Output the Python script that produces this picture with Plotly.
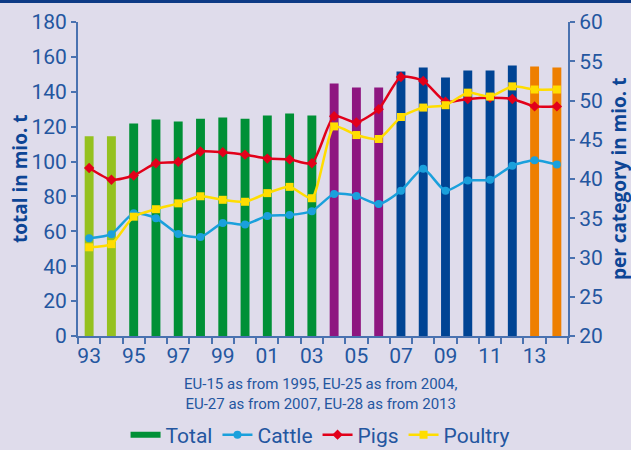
import plotly.graph_objects as go

years = list(range(1993, 2015))
total = [114.5, 114.5, 121.8, 124.1, 122.9, 124.6, 125.2, 124.6, 126.4, 127.5, 126.4,
         144.7, 142.4, 142.4, 151.6, 153.9, 148.2, 152.2, 152.2, 155.1, 154.5, 153.9]
cattle = [32.45, 32.97, 35.65, 35.0, 33.0, 32.6, 34.4, 34.2, 35.3, 35.4, 35.9,
          38.1, 37.85, 36.8, 38.5, 41.3, 38.5, 39.8, 39.9, 41.7, 42.4, 41.85]
pigs = [41.4, 39.9, 40.45, 42.0, 42.2, 43.5, 43.4, 43.1, 42.6, 42.5, 42.0,
        48.0, 47.2, 48.9, 53.0, 52.5, 49.85, 50.2, 50.35, 50.2, 49.25, 49.25]
poultry = [31.3, 31.7, 35.2, 36.15, 36.9, 37.8, 37.35, 37.1, 38.2, 39.0, 37.55,
           46.7, 45.6, 45.1, 47.9, 49.1, 49.4, 51.0, 50.5, 51.8, 51.4, 51.4]
tick_years = [1993, 1995, 1997, 1999, 2001, 2003, 2005, 2007, 2009, 2011, 2013]
tick_labels = ["93", "95", "97", "99", "01", "03", "05", "07", "09", "11", "13"]

def bar_color(y):
    if y < 1995:
        return "#95c11f"
    if y < 2004:
        return "#009036"
    if y < 2007:
        return "#8e1680"
    if y < 2013:
        return "#004494"
    return "#ee7f00"

BG = "#dfdceb"
TXT = "#2456a0"
TITLE = "#0d4595"
AX = "#4a72b0"

fig = go.Figure()
fig.add_trace(go.Bar(x=years, y=total, width=0.4, marker_color=[bar_color(y) for y in years],
                     marker_line_width=0, showlegend=False, name="Total"))
fig.add_trace(go.Scatter(x=[None], y=[None], mode="lines", name="Total",
                         line=dict(color="#009036", width=6)))
fig.add_trace(go.Scatter(x=years, y=cattle, name="Cattle", yaxis="y2", mode="lines+markers",
                         line=dict(color="#1aa0dc", width=2.5, shape="spline", smoothing=0.6),
                         marker=dict(symbol="circle", size=8, color="#1aa0dc")))
fig.add_trace(go.Scatter(x=years, y=pigs, name="Pigs", yaxis="y2", mode="lines+markers",
                         line=dict(color="#e2001a", width=2.5, shape="spline", smoothing=0.6),
                         marker=dict(symbol="diamond", size=8, color="#e2001a")))
fig.add_trace(go.Scatter(x=years, y=poultry, name="Poultry", yaxis="y2", mode="lines+markers",
                         line=dict(color="#ffdd00", width=2.5, shape="spline", smoothing=0.6),
                         marker=dict(symbol="square", size=8, color="#ffdd00")))

tickfont = dict(family="Roboto", size=21, color=TXT)
fig.update_layout(
    width=631, height=450,
    margin=dict(l=78, r=63, t=22, b=114, autoexpand=False),
    paper_bgcolor=BG, plot_bgcolor=BG,
    font=dict(family="Roboto", color=TXT),
    xaxis=dict(range=[1992.5, 2014.5], tickvals=tick_years, ticktext=tick_labels,
               ticks="", showgrid=False, zeroline=False, showline=True, linecolor=AX,
               linewidth=2, tickfont=tickfont,
               minor=dict(tick0=1992.5, dtick=1, ticks="outside", ticklen=6,
                          tickcolor=AX, tickwidth=1.5, showgrid=False)),
    yaxis=dict(range=[0, 180], dtick=20, showgrid=False, zeroline=False, showline=True,
               linecolor=AX, linewidth=2, ticks="outside", ticklen=5, tickcolor=AX,
               tickwidth=1.5, tickfont=tickfont),
    yaxis2=dict(range=[20, 60], dtick=5, overlaying="y", side="right", showgrid=False,
                zeroline=False, showline=True, linecolor=AX, linewidth=2, ticks="outside",
                ticklen=5, tickcolor=AX, tickwidth=1.5, tickfont=tickfont),
    legend=dict(orientation="h", x=0.494, xanchor="center", y=-99 / 314, yanchor="middle",
                font=dict(family="Roboto", size=21, color=TXT), bgcolor="rgba(0,0,0,0)",
                itemwidth=30, tracegroupgap=0),
    bargap=0.6,
    shapes=[dict(type="rect", xref="paper", yref="paper", x0=-0.2, x1=1.2,
                 y0=1 + 19 / 314, y1=1 + 23 / 314, fillcolor="#0d3a85", line_width=0,
                 layer="above")],
    annotations=[
        dict(text="total in mio. t", xref="paper", yref="paper", x=-58 / 490, y=0.5,
             textangle=-90, showarrow=False, xanchor="center", yanchor="middle",
             font=dict(family="Open Sans", size=19, color=TITLE, weight="bold")),
        dict(text="per category in mio. t", xref="paper", yref="paper", x=1 + 51 / 490, y=0.5,
             textangle=-90, showarrow=False, xanchor="center", yanchor="middle",
             font=dict(family="Open Sans", size=19, color=TITLE, weight="bold")),
        dict(text="EU-15 as from 1995, EU-25 as from 2004,<br>EU-27 as from 2007, EU-28 as from 2013",
             xref="paper", yref="paper", x=0.494, y=-58 / 314, showarrow=False,
             xanchor="center", yanchor="middle",
             font=dict(family="Roboto", size=15, color=TXT)),
    ],
)

fig.write_html("out.html", config={"displayModeBar": False},
               post_script="document.body.style.margin='0';document.body.style.overflow='hidden';")
